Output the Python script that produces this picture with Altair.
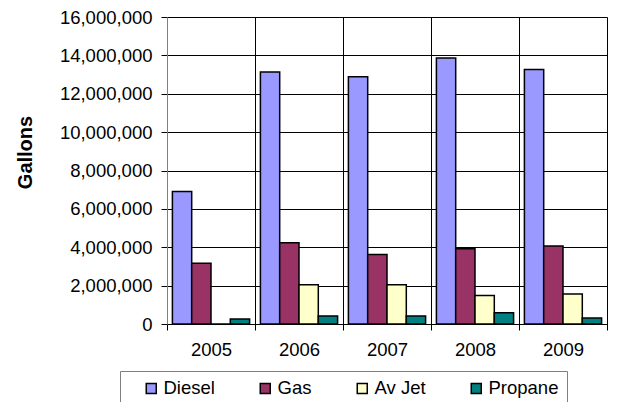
import altair as alt
import pandas as pd

years = ["2005", "2006", "2007", "2008", "2009"]
fuels = ["Diesel", "Gas", "Av Jet", "Propane"]
diesel = [6900000, 13140000, 12880000, 13860000, 13260000]
gas = [3170000, 4230000, 3620000, 3920000, 4060000]
av_jet = [0, 2040000, 2040000, 1490000, 1560000]
propane = [260000, 420000, 420000, 590000, 310000]
colors = ["#9999FF", "#993366", "#FFFFCC", "#008080"]
y_ticks = [0, 2000000, 4000000, 6000000, 8000000, 10000000, 12000000, 14000000, 16000000]

rows = []
for fuel, vals in zip(fuels, [diesel, gas, av_jet, propane]):
    for yr, v in zip(years, vals):
        rows.append({"Year": yr, "Fuel": fuel, "Gallons": v})
df = pd.DataFrame(rows)

font = "Liberation Sans"

chart = alt.Chart(df).mark_bar(stroke="black", strokeWidth=1.5).encode(
    x=alt.X("Year:N", sort=years,
            scale=alt.Scale(paddingInner=0, paddingOuter=0),
            axis=alt.Axis(title=None, labelAngle=0, labelFont=font, labelFontSize=18.5,
                          labelColor="black", labelPadding=10, tickBand="extent",
                          tickSize=6, tickColor="black", domainColor="black",
                          grid=True, gridColor="black", gridWidth=1)),
    xOffset=alt.XOffset("Fuel:N", sort=fuels,
                        scale=alt.Scale(paddingInner=0, paddingOuter=0.28)),
    y=alt.Y("Gallons:Q",
            scale=alt.Scale(domain=[0, 16000000], nice=False),
            axis=alt.Axis(values=y_ticks, format=",.0f", title="Gallons",
                          titleFont=font, titleFontSize=20, titleFontWeight="bold",
                          titleColor="black", titleAngle=-90, titleX=-142, titleY=135,
                          titleAlign="center", titleBaseline="middle",
                          labelFont=font, labelFontSize=18.5, labelColor="black",
                          labelPadding=9, tickSize=6, tickColor="black",
                          domainColor="#808080", grid=True, gridColor="black",
                          gridWidth=1)),
    color=alt.Color("Fuel:N", sort=fuels,
                    scale=alt.Scale(domain=fuels, range=colors),
                    legend=alt.Legend(title=None, orient="none", direction="horizontal",
                                      legendX=-47, legendY=354, symbolType="square",
                                      symbolSize=100, symbolStrokeColor="black",
                                      symbolStrokeWidth=1.5, symbolOpacity=1,
                                      symbolOffset=14,
                                      labelFont=font, labelFontSize=18.5,
                                      labelColor="black", labelOffset=3,
                                      columnPadding=27, padding=8,
                                      strokeColor="#808080", fillColor="white")),
).properties(
    width=440, height=307,
    autosize=alt.AutoSizeParams(type="none"),
    padding={"left": 159, "top": 9, "right": 11, "bottom": 78},
).configure_view(stroke="black", strokeWidth=1).configure(background="white")

chart.save("out.html", embed_options={"renderer": "svg", "actions": False})
